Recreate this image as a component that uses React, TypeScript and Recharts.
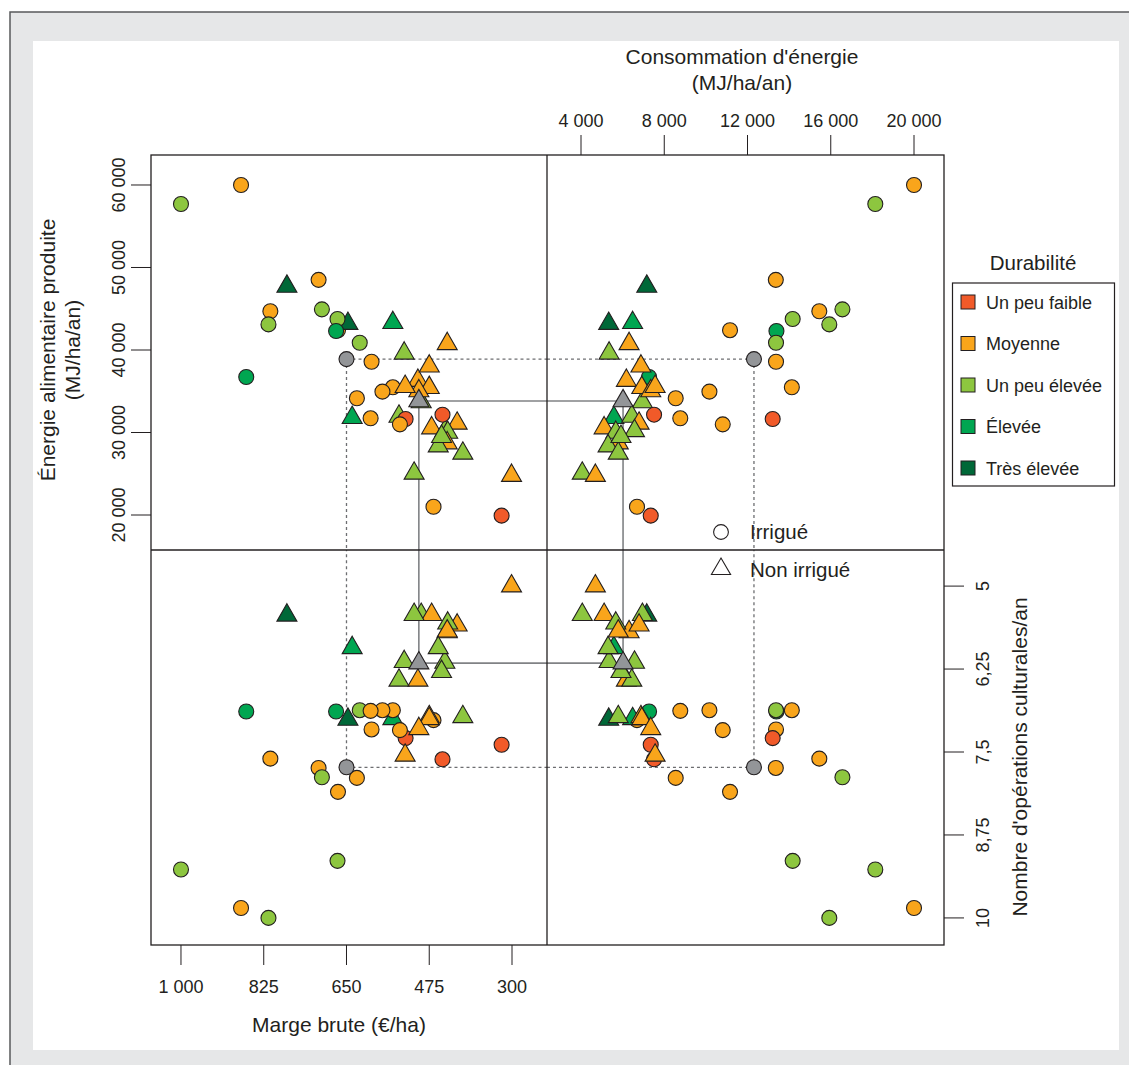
import React from 'react';
import { ScatterChart, Scatter, XAxis, YAxis, ReferenceLine } from 'recharts';

const FONT = '"Liberation Sans", Arial, Helvetica, sans-serif';
const INK = '#231f20';

// Durability classes (legend)
const classes = ['Un peu faible', 'Moyenne', 'Un peu élevée', 'Élevée', 'Très élevée'];
const classColors = ['#f15a29', '#f9a51b', '#8dc63f', '#00a651', '#006838'];

// Irrigated farms (circles)
const irrMarge = [1000, 873, 709, 811, 815, 702, 669, 668, 672, 622, 597, 862, 552, 574, 628, 599, 525, 537, 447, 466, 322];
const irrEnergie = [57700, 60000, 48500, 44700, 43100, 44930, 43760, 42400, 42300, 40880, 38580, 36730, 35480, 34950, 34150, 31720, 31640, 30990, 32160, 21000, 19920];
const irrConso = [18140, 20000, 13360, 15450, 15930, 16560, 14170, 11160, 13390, 13370, 13370, 7270, 14130, 10170, 8550, 8770, 13210, 10810, 7510, 6690, 7350];
const irrOps = [9.27, 9.85, 7.74, 7.6, 10.0, 7.88, 9.14, 8.1, 6.89, 6.87, 7.16, 6.89, 6.87, 6.87, 7.89, 6.88, 7.29, 7.17, 7.61, 7.02, 7.39];
const irrClasse = [2, 1, 1, 1, 2, 2, 2, 1, 3, 2, 1, 3, 1, 1, 1, 1, 0, 1, 0, 1, 0];

// Non-irrigated farms (triangles)
const secMarge = [776, 647, 552, 437, 528, 475, 499, 526, 475, 497, 492, 638, 539, 416, 470, 442, 436, 437, 456, 404, 507, 301, 449];
const secEnergie = [47700, 43200, 43300, 40750, 39600, 38030, 36300, 35560, 35430, 35030, 33700, 31800, 31950, 31110, 30540, 30200, 30000, 28720, 28350, 27470, 25050, 24780, 29500];
const secConso = [7160, 5330, 6480, 6310, 5350, 6880, 6180, 7560, 6920, 7350, 6950, 5580, 6440, 6790, 5110, 6570, 5670, 5790, 5300, 5790, 4060, 4690, 5920];
const secOps = [5.44, 7.01, 7.0, 5.69, 6.14, 6.97, 6.42, 7.55, 7.0, 7.15, 5.43, 5.93, 6.42, 5.59, 5.43, 6.15, 5.56, 5.68, 5.93, 6.97, 5.43, 5.0, 6.29];
const secClasse = [4, 4, 3, 1, 2, 1, 1, 1, 1, 1, 2, 3, 2, 1, 1, 2, 2, 1, 2, 2, 2, 1, 2];

// Reference points (grey): irrigated (circle) and non-irrigated (triangle)
const refMarge = [650, 497];
const refEnergie = [38900, 33820];
const refConso = [12310, 6020];
const refOps = [7.73, 6.16];

// Axis ticks
const margeTicks = [1000, 825, 650, 475, 300];
const margeLabels = ['1 000', '825', '650', '475', '300'];
const consoTicks = [4000, 8000, 12000, 16000, 20000];
const consoLabels = ['4 000', '8 000', '12 000', '16 000', '20 000'];
const energieTicks = [20000, 30000, 40000, 50000, 60000];
const energieLabels = ['20 000', '30 000', '40 000', '50 000', '60 000'];
const opsTicks = [5, 6.25, 7.5, 8.75, 10];
const opsLabels = ['5', '6,25', '7,5', '8,75', '10'];

type Row = { marge: number; energie: number; conso: number; ops: number; classe: number; irrigue: boolean };

const triRows: Row[] = secMarge.map((m, i) => ({ marge: m, energie: secEnergie[i], conso: secConso[i], ops: secOps[i], classe: secClasse[i], irrigue: false }));
const cirRows: Row[] = irrMarge.map((m, i) => ({ marge: m, energie: irrEnergie[i], conso: irrConso[i], ops: irrOps[i], classe: irrClasse[i], irrigue: true }));
// drawing order (which marks overlap which)
const earlyCir = [7, 19, 11];
const lateTri = [5, 8, 9, 7];
const rows: Row[] = [
  ...earlyCir.map((i) => cirRows[i]),
  ...triRows.filter((_, i) => !lateTri.includes(i)),
  ...cirRows.filter((_, i) => !earlyCir.includes(i)),
  ...lateTri.map((i) => triRows[i]),
];
const refRows: Row[] = refMarge.map((m, i) => ({ marge: m, energie: refEnergie[i], conso: refConso[i], ops: refOps[i], classe: -1, irrigue: i === 0 }));

const Marker = (props: any) => {
  const { cx, cy, payload } = props;
  if (cx == null || cy == null || !payload) return null;
  const fill = payload.classe >= 0 ? classColors[payload.classe] : '#939598';
  if (payload.irrigue) return <circle cx={cx} cy={cy} r={7.5} fill={fill} stroke={INK} strokeWidth={1.1} />;
  const r = 11.6;
  return (
    <polygon
      points={`${cx},${cy - r} ${cx + 10},${cy + r / 2} ${cx - 10},${cy + r / 2}`}
      fill={fill}
      stroke={INK}
      strokeWidth={1.1}
    />
  );
};

const AX = 80;

function labelFor(ticks: number[], labels: string[], v: number) {
  const i = ticks.findIndex((t) => Math.abs(t - v) < 1e-6);
  return i >= 0 ? labels[i] : String(v);
}

function Panel(props: any) {
  const { x0, y0, w, h, xKey, yKey, xDomain, yDomain, xReversed, yReversed, xAxis, yAxis, xTicks, xLabels, yTicks, yLabels } = props;
  const cw = w + (yAxis ? AX : 0);
  const ch = h + (xAxis ? AX : 0);
  const left = x0 - (yAxis === 'left' ? AX : 0);
  const top = y0 - (xAxis === 'top' ? AX : 0);
  const mean = refRows[0] as any;
  const med = refRows[1] as any;
  const xTick = (p: any) => {
    const lab = labelFor(xTicks, xLabels, p.payload.value);
    const y = xAxis === 'top' ? p.y - 8 : p.y + 28;
    return (
      <text x={p.x} y={y} textAnchor="middle" fontSize={18} fontFamily={FONT} fill={INK}>
        {lab}
      </text>
    );
  };
  const yTick = (p: any) => {
    const lab = labelFor(yTicks, yLabels, p.payload.value);
    const x = yAxis === 'left' ? p.x - 6 : p.x + 25;
    return (
      <text x={x} y={p.y} transform={`rotate(-90 ${x} ${p.y})`} textAnchor="middle" fontSize={18} fontFamily={FONT} fill={INK}>
        {lab}
      </text>
    );
  };
  return (
    <div style={{ position: 'absolute', left, top, width: cw, height: ch }}>
      <ScatterChart width={cw} height={ch} margin={{ top: 0, right: 0, bottom: 0, left: 0 }} style={{ overflow: 'visible' }}>
        <XAxis
          type="number"
          dataKey={xKey}
          domain={xDomain}
          reversed={xReversed}
          allowDataOverflow
          hide={!xAxis}
          orientation={xAxis || 'bottom'}
          height={AX}
          ticks={xTicks}
          interval={0}
          tickSize={20}
          tickMargin={0}
          axisLine={false}
          tickLine={{ stroke: INK, strokeWidth: 1 }}
          tick={xTick}
        />
        <YAxis
          type="number"
          dataKey={yKey}
          domain={yDomain}
          reversed={yReversed}
          allowDataOverflow
          hide={!yAxis}
          orientation={yAxis || 'left'}
          width={AX}
          ticks={yTicks}
          interval={0}
          tickSize={20}
          tickMargin={0}
          axisLine={false}
          tickLine={{ stroke: INK, strokeWidth: 1 }}
          tick={yTick}
        />
        <ReferenceLine segment={[{ x: mean[xKey], y: mean[yKey] }, { x: xDomain[0], y: mean[yKey] }]} stroke="#6d6e71" strokeWidth={1.3} strokeDasharray="3 3" ifOverflow="visible" />
        <ReferenceLine segment={[{ x: mean[xKey], y: mean[yKey] }, { x: mean[xKey], y: yDomain[0] }]} stroke="#6d6e71" strokeWidth={1.3} strokeDasharray="3 3" ifOverflow="visible" />
        <ReferenceLine segment={[{ x: med[xKey], y: med[yKey] }, { x: xDomain[0], y: med[yKey] }]} stroke="#808285" strokeWidth={1.6} ifOverflow="visible" />
        <ReferenceLine segment={[{ x: med[xKey], y: med[yKey] }, { x: med[xKey], y: yDomain[0] }]} stroke="#808285" strokeWidth={1.6} ifOverflow="visible" />
        <Scatter data={rows} shape={Marker} isAnimationActive={false} />
        <Scatter data={refRows} shape={Marker} isAnimationActive={false} />
      </ScatterChart>
    </div>
  );
}

const margeDomain = [226, 1063.4];
const consoDomain = [2366, 21441];
const energieDomain = [15758, 63636];
const opsDomain = [4.456, 10.408];

export default function App() {
  const t = { fontFamily: FONT, fill: INK } as const;
  return (
    <div style={{ position: 'relative', width: 1129, height: 1065, overflow: 'hidden', background: '#e6e7e8' }}>
      <style>{'body{margin:0}'}</style>
      <svg width={1129} height={1065} style={{ position: 'absolute', left: 0, top: 0 }}>
        <rect x={0} y={0} width={1129} height={1065} fill="#ffffff" />
        <rect x={10} y={12} width={1130} height={1060} fill="#e6e7e8" stroke="#58595b" strokeWidth={1.5} />
        <rect x={33} y={41} width={1086} height={1009} fill="#ffffff" />
      </svg>

      <Panel x0={151} y0={155} w={396} h={395} xKey="marge" yKey="energie" xDomain={margeDomain} yDomain={energieDomain} xReversed yReversed={false} xAxis={null} yAxis="left" xTicks={margeTicks} xLabels={margeLabels} yTicks={energieTicks} yLabels={energieLabels} />
      <Panel x0={547} y0={155} w={397} h={395} xKey="conso" yKey="energie" xDomain={consoDomain} yDomain={energieDomain} xReversed={false} yReversed={false} xAxis="top" yAxis={null} xTicks={consoTicks} xLabels={consoLabels} yTicks={energieTicks} yLabels={energieLabels} />
      <Panel x0={151} y0={550} w={396} h={395} xKey="marge" yKey="ops" xDomain={margeDomain} yDomain={opsDomain} xReversed yReversed xAxis="bottom" yAxis={null} xTicks={margeTicks} xLabels={margeLabels} yTicks={opsTicks} yLabels={opsLabels} />
      <Panel x0={547} y0={550} w={397} h={395} xKey="conso" yKey="ops" xDomain={consoDomain} yDomain={opsDomain} xReversed={false} yReversed xAxis={null} yAxis="right" xTicks={consoTicks} xLabels={consoLabels} yTicks={opsTicks} yLabels={opsLabels} />

      <svg width={1129} height={1065} style={{ position: 'absolute', left: 0, top: 0, pointerEvents: 'none' }}>
        <rect x={151} y={155} width={793} height={790} fill="none" stroke={INK} strokeWidth={1.3} />
        <line x1={547} y1={155} x2={547} y2={945} stroke={INK} strokeWidth={1.3} />
        <line x1={151} y1={550} x2={944} y2={550} stroke={INK} strokeWidth={1.3} />

        <text x={742} y={64} textAnchor="middle" fontSize={21} {...t}>Consommation d'énergie</text>
        <text x={742} y={90} textAnchor="middle" fontSize={21} {...t}>(MJ/ha/an)</text>
        <text x={339} y={1032} textAnchor="middle" fontSize={21} {...t}>Marge brute (€/ha)</text>
        <text x={55} y={350} textAnchor="middle" fontSize={21} transform="rotate(-90 55 350)" {...t}>Énergie alimentaire produite</text>
        <text x={80} y={350} textAnchor="middle" fontSize={21} transform="rotate(-90 80 350)" {...t}>(MJ/ha/an)</text>
        <text x={1027} y={757} textAnchor="middle" fontSize={21} transform="rotate(-90 1027 757)" {...t}>Nombre d'opérations culturales/an</text>

        <text x={1033} y={270} textAnchor="middle" fontSize={20.5} {...t}>Durabilité</text>
        <rect x={952.5} y={283} width={162} height={203} fill="#ffffff" stroke={INK} strokeWidth={1.2} />
        {classes.map((c, i) => (
          <g key={c}>
            <rect x={961} y={295 + i * 41.5} width={14} height={14} fill={classColors[i]} stroke={INK} strokeWidth={1} />
            <text x={986} y={308.5 + i * 41.5} fontSize={18} {...t}>{c}</text>
          </g>
        ))}

        <circle cx={721} cy={532} r={7.4} fill="none" stroke={INK} strokeWidth={1.1} />
        <text x={750} y={539} fontSize={20.5} {...t}>Irrigué</text>
        <polygon points="721,558 730.6,574.5 711.4,574.5" fill="none" stroke={INK} strokeWidth={1.1} />
        <text x={750} y={577} fontSize={20.5} {...t}>Non irrigué</text>
      </svg>
    </div>
  );
}
